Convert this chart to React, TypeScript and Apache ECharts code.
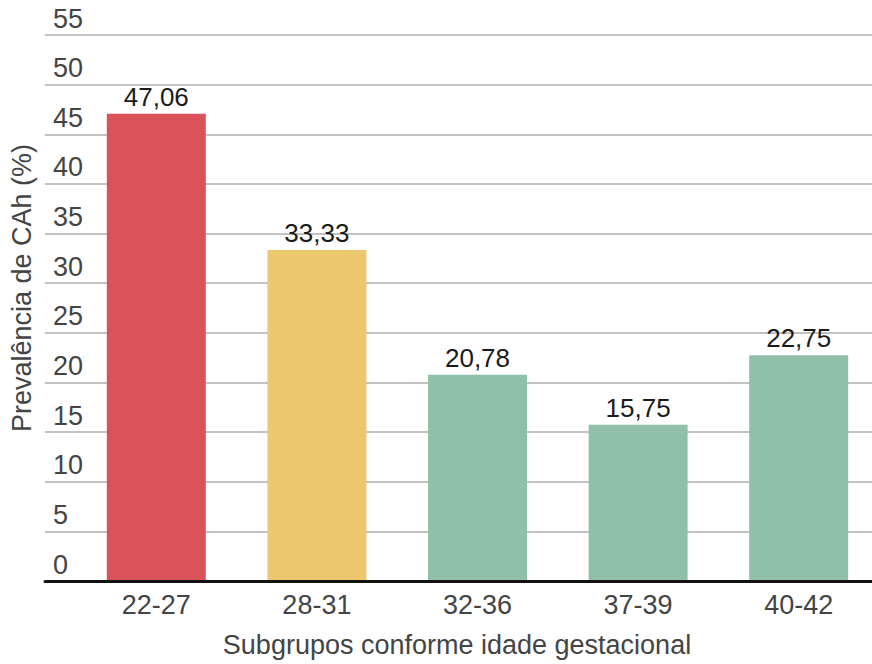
import React, { useEffect, useRef } from "react";
import * as echarts from "echarts";

const categories = ["22-27", "28-31", "32-36", "37-39", "40-42"];
const values = [47.06, 33.33, 20.78, 15.75, 22.75];
const barColors = ["#DC525A", "#EDC76E", "#90C0A7", "#90C0A7", "#90C0A7"];
const yTitle = "Prevalência de CAh (%)";
const xTitle = "Subgrupos conforme idade gestacional";

const FONT = "'Liberation Sans', Arial, sans-serif";
const FS = 27;

export default function App() {
  const ref = useRef<HTMLDivElement>(null);
  useEffect(() => {
    if (!ref.current) return;
    const chart = echarts.init(ref.current, undefined, { renderer: "svg" });
    chart.setOption({
      animation: false,
      backgroundColor: "#ffffff",
      textStyle: { fontFamily: FONT },
      grid: [
        { left: 45, right: 0, top: 35, bottom: 83, outerBoundsMode: "none", containLabel: false },
        { left: 76, width: 803, top: 35, bottom: 83, outerBoundsMode: "none", containLabel: false },
      ],
      xAxis: [
        {
          gridIndex: 0,
          type: "value",
          min: 0,
          max: 1,
          z: 5,
          axisLine: { show: true, lineStyle: { color: "#111", width: 3 } },
          axisTick: { show: false },
          axisLabel: { show: false },
          splitLine: { show: false },
        },
        {
          gridIndex: 1,
          type: "category",
          data: categories,
          axisLine: { show: false },
          axisTick: { show: false },
          axisLabel: { color: "#444", fontSize: FS, fontFamily: FONT, margin: 10 },
        },
      ],
      yAxis: [
        {
          gridIndex: 0,
          type: "value",
          min: 0,
          max: 55,
          interval: 5,
          axisLine: { show: false },
          axisTick: { show: false },
          axisLabel: {
            inside: true,
            color: "#444",
            fontSize: FS,
            fontFamily: FONT,
            verticalAlign: "bottom",
            padding: [0, 0, 3, 0],
          },
          splitLine: { show: true, lineStyle: { color: "#c2c2c2", width: 2 } },
        },
        {
          gridIndex: 1,
          type: "value",
          min: 0,
          max: 55,
          interval: 5,
          show: false,
          splitLine: { show: false },
        },
      ],
      series: [
        {
          type: "bar",
          xAxisIndex: 1,
          yAxisIndex: 1,
          barWidth: 99,
          data: values.map((v, i) => ({ value: v, itemStyle: { color: barColors[i] } })),
          label: {
            show: true,
            position: "top",
            distance: 4,
            color: "#1a1a1a",
            fontSize: 26,
            fontFamily: FONT,
            formatter: (p: any) => p.value.toFixed(2).replace(".", ","),
          },
        },
      ],
      graphic: [
        {
          type: "text",
          x: 22,
          y: 288,
          rotation: Math.PI / 2,
          style: {
            text: yTitle,
            fill: "#444",
            font: `${FS}px ${FONT}`,
            textAlign: "center",
            textVerticalAlign: "middle",
          },
        },
        {
          type: "text",
          x: 457,
          y: 645,
          style: {
            text: xTitle,
            fill: "#444",
            font: `${FS}px ${FONT}`,
            textAlign: "center",
            textVerticalAlign: "middle",
          },
        },
      ],
    });
    return () => chart.dispose();
  }, []);
  return <div ref={ref} style={{ width: 872, height: 664, position: "absolute", left: 0, top: 0 }} />;
}
